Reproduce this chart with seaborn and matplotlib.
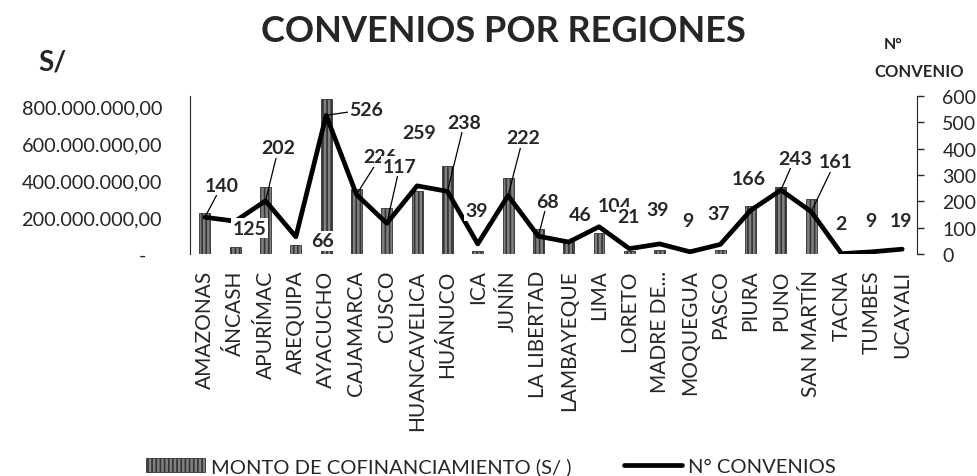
import numpy as np
import pandas as pd
import matplotlib
matplotlib.use("Agg")
import matplotlib.pyplot as plt
import seaborn as sns
from matplotlib.ticker import FuncFormatter

# DATA
regiones = ["AMAZONAS", "ÁNCASH", "APURÍMAC", "AREQUIPA", "AYACUCHO", "CAJAMARCA",
            "CUSCO", "HUANCAVELICA", "HUÁNUCO", "ICA", "JUNÍN", "LA LIBERTAD",
            "LAMBAYEQUE", "LIMA", "LORETO", "MADRE DE...", "MOQUEGUA", "PASCO",
            "PIURA", "PUNO", "SAN MARTÍN", "TACNA", "TUMBES", "UCAYALI"]
monto = [222e6, 40e6, 362e6, 50e6, 838e6, 350e6, 250e6, 340e6, 475e6, 15e6,
         410e6, 135e6, 70e6, 115e6, 15e6, 20e6, 3e6, 25e6, 260e6, 362e6,
         297e6, 3e6, 2e6, 3e6]
convenios = [140, 125, 202, 66, 526, 226, 117, 259, 238, 39, 222, 68, 46, 104,
             21, 39, 9, 37, 166, 243, 161, 2, 9, 19]

# label placement (offset in pixels from the line point) and leader lines
label_offsets = [(17, 32), (14, -7), (13, 53), (27, -4), (40, 6), (24, 38),
                 (13, 57), (2, 53), (17, 69), (-1, 33), (15, 58), (9, 35),
                 (12, 28), (16, 21), (-1, 32), (-2, 34), (-2, 31), (-2, 31),
                 (-2, 32), (14, 32), (24, 50), (-1, 30), (-1, 31), (-1, 29)]
leaders = [1, 0, 1, 0, 1, 1, 1, 0, 1, 0, 1, 1, 0, 0, 0, 0, 0, 0, 0, 1, 1, 0, 0, 0]

df = pd.DataFrame({"region": regiones, "monto": monto, "convenios": convenios})

sns.set_style("white")
plt.rcParams["font.family"] = ["Lato", "DejaVu Sans"]
plt.rcParams["hatch.linewidth"] = 1.2

fig = plt.figure(figsize=(9.78, 4.77), dpi=100)
ax = fig.add_axes([0.194, 0.465, 0.744, 0.332])
ax2 = ax.twinx()

# BARS
sns.barplot(data=df, x="region", y="monto", ax=ax, color="#808080", width=0.36,
            hatch="||||", edgecolor="#333333", linewidth=0.6, saturation=1,
            label="MONTO DE COFINANCIAMIENTO (S/ )")

# LINE
sns.lineplot(x=np.arange(len(regiones)), y=df["convenios"], ax=ax2, color="black",
             linewidth=3.4, label="N° CONVENIOS", legend=False)

ax.set_xlim(-0.5, len(regiones) - 0.5)
ax.set_ylim(0, 855e6)
ax2.set_ylim(0, 600)

ax.set_yticks([0, 200e6, 400e6, 600e6, 800e6])
ax.yaxis.set_major_formatter(FuncFormatter(
    lambda v, p: "-   " if v == 0 else f"{v:,.2f}".replace(",", "X").replace(".", ",").replace("X", ".")))
ax.tick_params(axis="y", length=0, pad=20, labelsize=14.3)
ax.tick_params(axis="x", length=0, pad=11, labelsize=15, rotation=90)
ax.set_xlabel("")
ax.set_ylabel("")

ax2.set_yticks(range(0, 601, 100))
ax2.tick_params(axis="y", direction="out", length=5, width=1, pad=13, labelsize=14)
ax2.set_ylabel("")

for a in (ax, ax2):
    a.spines["top"].set_visible(False)
    a.spines["bottom"].set_visible(False)
ax.spines["right"].set_visible(False)
ax.spines["left"].set_visible(False)
ax2.spines["left"].set_visible(True)
ax2.spines["left"].set_color("#222222")
ax2.spines["right"].set_color("#222222")

# DATA LABELS
for i, v in enumerate(convenios):
    dx, dy = label_offsets[i]
    arrow = dict(arrowstyle="-", color="black", lw=0.9, shrinkA=0, shrinkB=0) if leaders[i] else None
    ax2.annotate(str(v), xy=(i, v), xytext=(dx, dy), textcoords="offset pixels",
                 ha="center", va="center", fontsize=14, fontweight="bold",
                 bbox=dict(boxstyle="square,pad=0.08", fc="white", ec="none"),
                 arrowprops=arrow, zorder=5)

# TITLES
fig.text(0.515, 0.935, "CONVENIOS POR REGIONES", ha="center", va="center",
         fontsize=26, fontweight="bold")
fig.text(0.054, 0.87, "S/", ha="center", va="center", fontsize=20, fontweight="bold")
fig.text(0.913, 0.905, "N°", ha="center", va="center", fontsize=11.5, fontweight="bold")
fig.text(0.94, 0.85, "CONVENIO", ha="center", va="center", fontsize=12, fontweight="bold")

# LEGEND
h1, l1 = ax.get_legend_handles_labels()
h2, l2 = ax2.get_legend_handles_labels()
if ax.get_legend():
    ax.get_legend().remove()
fig.legend(h1 + h2, l1 + l2, loc="center", bbox_to_anchor=(0.502, 0.02), ncol=2,
           frameon=False, fontsize=14.5, handlelength=2.9, handletextpad=0.3,
           columnspacing=2.6)

fig.savefig("out.png", dpi=100)
